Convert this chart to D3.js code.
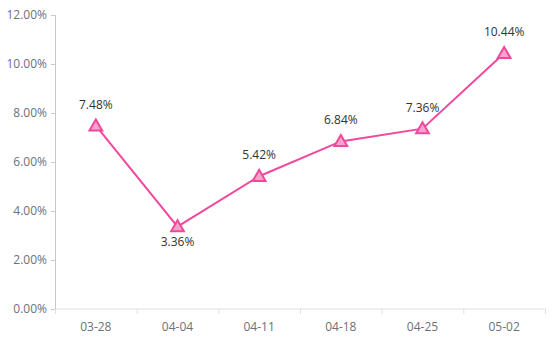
<!DOCTYPE html>
<html>
<head>
<meta charset="utf-8">
<script src="https://cdn.jsdelivr.net/npm/d3@7"></script>
<style>
  body { margin: 0; background: #fff; }
  text { font-family: "Open Sans", "Noto Sans", sans-serif; }
</style>
</head>
<body>
<div id="chart"></div>
<script>
var dates = ["03-28", "04-04", "04-11", "04-18", "04-25", "05-02"];
var rates = [7.48, 3.36, 5.42, 6.84, 7.36, 10.44];
var yTicks = [0, 2, 4, 6, 8, 10, 12];

var margin = {top: 15, right: 9, bottom: 42, left: 55},
    width = 554 - margin.left - margin.right,
    height = 351 - margin.top - margin.bottom;

var svg = d3.select("#chart").append("svg")
    .attr("width", 554)
    .attr("height", 351)
    .append("g")
    .attr("transform", "translate(" + margin.left + "," + margin.top + ")");

var xScale = d3.scaleBand().domain(dates).range([0, width]);
var yScale = d3.scaleLinear().domain([0, 12]).range([height, 0]);

// x axis: light line, ticks at band boundaries
var xAxis = svg.append("g").attr("transform", "translate(0," + height + ")");
xAxis.append("line")
    .attr("x1", 0).attr("x2", width)
    .attr("stroke", "#e0e0e0");
xAxis.selectAll("line.tick")
    .data(dates.concat(["end"]))
    .join("line")
    .attr("class", "tick")
    .attr("x1", (d, i) => i * xScale.bandwidth() + 0.5)
    .attr("x2", (d, i) => i * xScale.bandwidth() + 0.5)
    .attr("y1", 0).attr("y2", 5)
    .attr("stroke", "#e0e0e0");
xAxis.selectAll("text")
    .data(dates)
    .join("text")
    .attr("x", d => xScale(d) + xScale.bandwidth() / 2)
    .attr("y", 22)
    .attr("text-anchor", "middle")
    .attr("fill", "#6e7079")
    .style("font-size", "12px")
    .text(d => d);

// y axis
var yAxis = svg.append("g");
yAxis.append("line")
    .attr("x1", 0.5).attr("x2", 0.5)
    .attr("y1", 0).attr("y2", height)
    .attr("stroke", "#c8c8c8");
yAxis.selectAll("line.tick")
    .data(yTicks)
    .join("line")
    .attr("class", "tick")
    .attr("x1", -4).attr("x2", 0)
    .attr("y1", d => Math.round(yScale(d)) + 0.5)
    .attr("y2", d => Math.round(yScale(d)) + 0.5)
    .attr("stroke", "#c8c8c8");
yAxis.selectAll("text")
    .data(yTicks)
    .join("text")
    .attr("x", -8)
    .attr("y", d => yScale(d))
    .attr("dy", "0.35em")
    .attr("text-anchor", "end")
    .attr("fill", "#6e7079")
    .style("font-size", "12px")
    .text(d => d.toFixed(2) + "%");

var color = "#f0489c";

var line = d3.line()
    .x((d, i) => xScale(dates[i]) + xScale.bandwidth() / 2)
    .y(d => yScale(d));

svg.append("path")
    .datum(rates)
    .attr("fill", "none")
    .attr("stroke", color)
    .attr("stroke-width", 2)
    .attr("d", line);

var tri = d3.symbol().type(d3.symbolTriangle).size(70);

svg.selectAll("path.marker")
    .data(rates)
    .join("path")
    .attr("class", "marker")
    .attr("d", tri)
    .attr("transform", (d, i) => "translate(" + (xScale(dates[i]) + xScale.bandwidth() / 2) + "," + (yScale(d) + 1) + ")")
    .attr("fill", "#f7a3cb")
    .attr("stroke", color)
    .attr("stroke-width", 2);

svg.selectAll("text.label")
    .data(rates)
    .join("text")
    .attr("class", "label")
    .attr("x", (d, i) => xScale(dates[i]) + xScale.bandwidth() / 2)
    .attr("y", (d, i) => i == 1 ? yScale(d) + 19 : yScale(d) - 17)
    .attr("text-anchor", "middle")
    .attr("fill", "#333")
    .style("font-size", "12px")
    .text(d => d.toFixed(2) + "%");
</script>
</body>
</html>
